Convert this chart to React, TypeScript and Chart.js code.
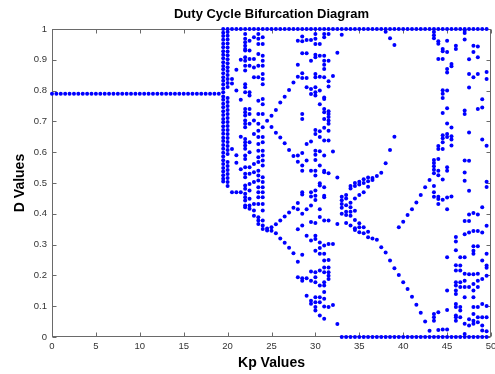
import { useEffect, useRef } from "react";
import { Chart, registerables } from "chart.js";

Chart.register(...registerables);

const chartTitle = "Duty Cycle Bifurcation Diagram";
const xAxisLabel = "Kp Values";
const yAxisLabel = "D Values";
const xTickValues = [0, 5, 10, 15, 20, 25, 30, 35, 40, 45, 50];
const yTickValues = [0, 0.1, 0.2, 0.3, 0.4, 0.5, 0.6, 0.7, 0.8, 0.9, 1];

// Steady state region: single fixed point
const steadyKp = [0, 0.5, 1, 1.5, 2, 2.5, 3, 3.5, 4, 4.5, 5, 5.5, 6, 6.5, 7, 7.5, 8, 8.5, 9, 9.5, 10, 10.5, 11, 11.5, 12, 12.5, 13, 13.5, 14, 14.5, 15, 15.5, 16, 16.5, 17, 17.5, 18, 18.5, 19];
const steadyD = 0.79;

// Saturation rows
const topRowKp = [19.5, 20, 20.5, 21, 21.5, 22, 22.5, 23, 23.5, 24, 24.5, 25, 25.5, 26, 26.5, 27, 27.5, 28, 28.5, 29, 29.5, 30, 30.5, 31, 31.5, 32, 32.5, 33, 33.5, 34, 34.5, 35, 35.5, 36, 36.5, 37, 37.5, 38, 38.5, 39, 39.5, 40, 40.5, 41, 41.5, 42, 42.5, 43, 43.5, 44, 44.5, 45, 45.5, 46, 46.5, 47, 47.5, 48, 48.5, 49, 49.5];
const bottomRowKp = [33, 33.5, 34, 34.5, 35, 35.5, 36, 36.5, 37, 37.5, 38, 38.5, 39, 39.5, 40, 40.5, 41, 41.5, 42, 42.5, 43, 43.5, 44, 44.5, 45, 45.5, 46, 46.5, 47, 47.5, 48, 48.5, 49, 49.5];

// First chaotic band
const chaosAKp = [19.5, 20, 20.5, 21, 21.5, 22, 22.5, 23, 23.5, 24];
const chaosAD = [
  [0.988, 0.977, 0.965, 0.952, 0.941, 0.928, 0.916, 0.905, 0.892, 0.88, 0.869, 0.856, 0.843, 0.832, 0.82, 0.807, 0.795, 0.781, 0.77, 0.757, 0.746, 0.733, 0.721, 0.708, 0.697, 0.684, 0.672, 0.66, 0.647, 0.636, 0.623, 0.611, 0.598, 0.586, 0.574, 0.562, 0.549, 0.537, 0.525, 0.514, 0.505],
  [0.99, 0.978, 0.966, 0.953, 0.94, 0.927, 0.915, 0.902, 0.889, 0.876, 0.864, 0.851, 0.838, 0.825, 0.812, 0.776, 0.763, 0.75, 0.737, 0.724, 0.711, 0.698, 0.685, 0.672, 0.659, 0.646, 0.633, 0.62, 0.607, 0.594, 0.568, 0.555, 0.542, 0.529, 0.516, 0.503, 0.49],
  [0.838, 0.823, 0.61, 0.47],
  [0.868, 0.8, 0.59, 0.566, 0.47],
  [0.9, 0.77, 0.65, 0.545, 0.47],
  [0.984, 0.968, 0.957, 0.946, 0.935, 0.93, 0.908, 0.897, 0.881, 0.865, 0.821, 0.811, 0.795, 0.74, 0.73, 0.719, 0.703, 0.692, 0.681, 0.643, 0.632, 0.622, 0.611, 0.589, 0.578, 0.551, 0.53, 0.519, 0.492, 0.481, 0.465, 0.454, 0.443, 0.427, 0.421],
  [0.962, 0.93, 0.903, 0.881, 0.795, 0.784, 0.74, 0.724, 0.692, 0.632, 0.6, 0.551, 0.53, 0.497, 0.476, 0.449, 0.427, 0.416],
  [0.973, 0.903, 0.875, 0.843, 0.703, 0.659, 0.562, 0.535, 0.503, 0.432, 0.411, 0.394],
  [0.984, 0.968, 0.951, 0.919, 0.881, 0.843, 0.767, 0.724, 0.692, 0.67, 0.649, 0.627, 0.605, 0.584, 0.568, 0.54, 0.524, 0.508, 0.486, 0.47, 0.454, 0.432, 0.389, 0.378, 0.367],
  [0.973, 0.951, 0.913, 0.897, 0.881, 0.854, 0.838, 0.821, 0.773, 0.756, 0.724, 0.681, 0.649, 0.632, 0.605, 0.589, 0.573, 0.557, 0.519, 0.503, 0.486, 0.47, 0.454, 0.432, 0.411, 0.378, 0.362, 0.351],
];

// Periodic window (period 2 -> 4)
const periodicKp = [24.5, 25, 25.5, 26, 26.5, 27, 27.5, 28];
const periodicD = [
  [0.702, 0.352, 0.346],
  [0.718, 0.682, 0.356, 0.345],
  [0.737, 0.663, 0.366, 0.337],
  [0.761, 0.648, 0.378, 0.32],
  [0.78, 0.629, 0.391, 0.306],
  [0.802, 0.607, 0.404, 0.29],
  [0.826, 0.588, 0.42, 0.272],
  [0.962, 0.884, 0.845, 0.589, 0.569, 0.435, 0.415, 0.35, 0.244, 0.194],
];

// Second chaotic band
const chaosBKp = [28.5, 29, 29.5, 30, 30.5, 31, 31.5, 32, 32.5];
const chaosBD = [
  [0.976, 0.96, 0.921, 0.856, 0.841, 0.724, 0.708, 0.597, 0.557, 0.54, 0.47, 0.463, 0.4, 0.362, 0.267, 0.191, 0.183],
  [0.964, 0.921, 0.841, 0.811, 0.627, 0.573, 0.415, 0.329, 0.191, 0.134],
  [0.964, 0.897, 0.805, 0.789, 0.635, 0.54, 0.47, 0.456, 0.427, 0.373, 0.313, 0.213, 0.183, 0.118, 0.108],
  [0.984, 0.968, 0.951, 0.916, 0.908, 0.854, 0.843, 0.811, 0.795, 0.784, 0.672, 0.659, 0.605, 0.592, 0.575, 0.54, 0.524, 0.476, 0.459, 0.445, 0.37, 0.329, 0.318, 0.28, 0.21, 0.194, 0.178, 0.129, 0.113, 0.097, 0.086],
  [0.951, 0.913, 0.845, 0.8, 0.756, 0.668, 0.649, 0.603, 0.557, 0.499, 0.492, 0.415, 0.39, 0.307, 0.289, 0.27, 0.216, 0.167, 0.129, 0.113, 0.07],
  [0.984, 0.973, 0.913, 0.897, 0.884, 0.87, 0.843, 0.778, 0.773, 0.74, 0.73, 0.708, 0.679, 0.638, 0.589, 0.54, 0.535, 0.486, 0.459, 0.454, 0.378, 0.297, 0.27, 0.248, 0.226, 0.21, 0.178, 0.167, 0.146, 0.124, 0.099, 0.059],
  [0.984, 0.897, 0.83, 0.813, 0.733, 0.724, 0.714, 0.703, 0.692, 0.67, 0.638, 0.532, 0.378, 0.302, 0.25, 0.226, 0.21, 0.199, 0.188, 0.097],
  [0.847, 0.602, 0.302, 0.104],
  [0.923, 0.518, 0.367, 0.042],
];

// Second window
const windowKp = [33, 33.5, 34, 34.5, 35, 35.5, 36, 36.5, 37, 37.5, 38, 38.5, 39, 39.5, 40, 40.5, 41, 41.5, 42, 42.5, 43];
const windowD = [
  [0.981, 0.455, 0.444, 0.432, 0.42, 0.4],
  [0.461, 0.45, 0.428, 0.407, 0.396, 0.37],
  [0.49, 0.482, 0.436, 0.421, 0.407, 0.394, 0.362],
  [0.5, 0.49, 0.45, 0.41, 0.38, 0.353, 0.347],
  [0.504, 0.495, 0.461, 0.369, 0.356, 0.34],
  [0.512, 0.5, 0.47, 0.356, 0.337],
  [0.518, 0.506, 0.488, 0.342, 0.324],
  [0.516, 0.51, 0.32],
  [0.523, 0.316],
  [0.533, 0.291],
  [0.991, 0.564, 0.274],
  [0.97, 0.607, 0.248],
  [0.948, 0.65, 0.223],
  [0.356, 0.201],
  [0.374, 0.178],
  [0.396, 0.156],
  [0.415, 0.131],
  [0.437, 0.105],
  [0.461, 0.079],
  [0.486, 0.05],
  [0.51, 0.02],
];

// Third chaotic band
const chaosCKp = [43.5, 44, 44.5, 45, 45.5, 46, 46.5, 47, 47.5, 48, 48.5, 49, 49.5];
const chaosCD = [
  [0.99, 0.98, 0.97, 0.575, 0.565, 0.554, 0.543, 0.532, 0.49, 0.47, 0.455, 0.075, 0.064, 0.053],
  [0.96, 0.952, 0.903, 0.62, 0.61, 0.578, 0.54, 0.525, 0.455, 0.448, 0.432, 0.08, 0.023],
  [0.935, 0.928, 0.903, 0.801, 0.79, 0.776, 0.727, 0.655, 0.645, 0.632, 0.61, 0.511, 0.446, 0.024],
  [0.962, 0.925, 0.87, 0.859, 0.8, 0.743, 0.693, 0.659, 0.649, 0.551, 0.54, 0.453, 0.415, 0.259, 0.151, 0.088, 0.024],
  [0.886, 0.879, 0.68, 0.652, 0.641, 0.622, 0.456],
  [0.946, 0.935, 0.325, 0.31, 0.282, 0.233, 0.216, 0.178, 0.167, 0.151, 0.14, 0.107, 0.097, 0.07, 0.064, 0.053],
  [0.259, 0.232, 0.216, 0.178, 0.162, 0.097, 0.086, 0.064],
  [0.995, 0.987, 0.966, 0.735, 0.724, 0.573, 0.534, 0.507, 0.377, 0.334, 0.259, 0.205, 0.183, 0.162, 0.129, 0.043, 0.01],
  [0.902, 0.854, 0.81, 0.664, 0.572, 0.475, 0.398, 0.377, 0.339, 0.204, 0.162, 0.058, 0.037],
  [0.946, 0.925, 0.843, 0.403, 0.344, 0.295, 0.28, 0.27, 0.204, 0.172, 0.151, 0.129, 0.097, 0.075, 0.053, 0.043],
  [0.943, 0.908, 0.854, 0.74, 0.398, 0.344, 0.295, 0.205, 0.183, 0.162, 0.097, 0.064, 0.048],
  [0.772, 0.745, 0.641, 0.421, 0.339, 0.248, 0.188, 0.107, 0.064, 0.037, 0.021],
  [0.86, 0.838, 0.621, 0.504, 0.487, 0.361, 0.27, 0.232, 0.225, 0.199, 0.101, 0.064, 0.019],
];

const FONT = "'Liberation Sans', Arial, Helvetica, sans-serif";

function collectPoints() {
  const pts: { x: number; y: number }[] = [];
  steadyKp.forEach((k) => pts.push({ x: k, y: steadyD }));
  topRowKp.forEach((k) => pts.push({ x: k, y: 1 }));
  bottomRowKp.forEach((k) => pts.push({ x: k, y: 0 }));
  const sections: [number[], number[][]][] = [
    [chaosAKp, chaosAD],
    [periodicKp, periodicD],
    [chaosBKp, chaosBD],
    [windowKp, windowD],
    [chaosCKp, chaosCD],
  ];
  sections.forEach(([kps, ds]) => {
    kps.forEach((k, i) => {
      ds[i].forEach((d) => pts.push({ x: k, y: d }));
    });
  });
  return pts;
}

const framePlugin = {
  id: "matlabFrame",
  beforeDatasetsDraw(chart: any) {
    const { ctx, chartArea: a, scales } = chart;
    const L = Math.round(a.left) + 0.5;
    const R = Math.round(a.right) - 0.5;
    const T = Math.round(a.top) + 0.5;
    const B = Math.round(a.bottom) - 0.5;
    ctx.save();
    ctx.strokeStyle = "#6a6a6a";
    ctx.lineWidth = 1;
    ctx.strokeRect(L, T, R - L, B - T);
    const tl = 4;
    ctx.beginPath();
    xTickValues.forEach((v) => {
      const px = Math.round(scales.x.getPixelForValue(v)) + 0.5;
      ctx.moveTo(px, B);
      ctx.lineTo(px, B - tl);
      ctx.moveTo(px, T);
      ctx.lineTo(px, T + tl);
    });
    yTickValues.forEach((v) => {
      const py = Math.round(scales.y.getPixelForValue(v)) + 0.5;
      ctx.moveTo(L, py);
      ctx.lineTo(L + tl, py);
      ctx.moveTo(R, py);
      ctx.lineTo(R - tl, py);
    });
    ctx.stroke();
    ctx.restore();
  },
};

export default function App() {
  const canvasRef = useRef<HTMLCanvasElement | null>(null);

  useEffect(() => {
    if (!canvasRef.current) return;
    const chart = new Chart(canvasRef.current, {
      type: "scatter",
      data: {
        datasets: [
          {
            data: collectPoints(),
            backgroundColor: "#0000ff",
            borderWidth: 0,
            pointRadius: 2,
            pointHoverRadius: 2,
            clip: false as any,
          },
        ],
      },
      options: {
        responsive: false,
        animation: false,
        events: [],
        layout: { padding: { left: 0, right: 4, top: 0, bottom: 0 } },
        plugins: {
          legend: { display: false },
          tooltip: { enabled: false },
          title: {
            display: true,
            text: chartTitle,
            fullSize: false,
            color: "#000",
            font: { family: FONT, size: 13, weight: "bold" },
            padding: { top: 6.4, bottom: 7 },
          },
        },
        scales: {
          x: {
            type: "linear",
            min: 0,
            max: 50,
            grid: { display: false, drawTicks: false },
            border: { display: false },
            afterBuildTicks: (s: any) => {
              s.ticks = xTickValues.map((v) => ({ value: v }));
            },
            afterFit: (s: any) => {
              s.height = 37;
              s.paddingLeft = 0;
              s.paddingRight = 0;
            },
            ticks: {
              autoSkip: false,
              maxRotation: 0,
              padding: 4,
              color: "#333",
              font: { family: FONT, size: 9.5 },
              callback: (v: any) => String(v),
            },
            title: {
              display: true,
              text: xAxisLabel,
              color: "#000",
              font: { family: FONT, size: 14, weight: "bold" },
              padding: { top: 0, bottom: 2 },
            },
          },
          y: {
            type: "linear",
            min: 0,
            max: 1,
            grid: { display: false, drawTicks: false },
            border: { display: false },
            afterBuildTicks: (s: any) => {
              s.ticks = yTickValues.map((v) => ({ value: v }));
            },
            afterFit: (s: any) => {
              s.width = 52;
              s.paddingTop = 0;
              s.paddingBottom = 0;
            },
            ticks: {
              autoSkip: false,
              padding: 5,
              color: "#333",
              font: { family: FONT, size: 9.5 },
              callback: (v: any) => String(Number(Number(v).toFixed(1))),
            },
            title: {
              display: true,
              text: yAxisLabel,
              color: "#000",
              font: { family: FONT, size: 14, weight: "bold" },
              padding: { top: 12, bottom: 0 },
            },
          },
        },
      },
      plugins: [framePlugin],
    } as any);
    return () => chart.destroy();
  }, []);

  return (
    <div style={{ position: "fixed", left: 0, top: 0, width: 495, height: 374, background: "#fff" }}>
      <canvas ref={canvasRef} width={495} height={374} style={{ width: 495, height: 374, display: "block" }} />
    </div>
  );
}
